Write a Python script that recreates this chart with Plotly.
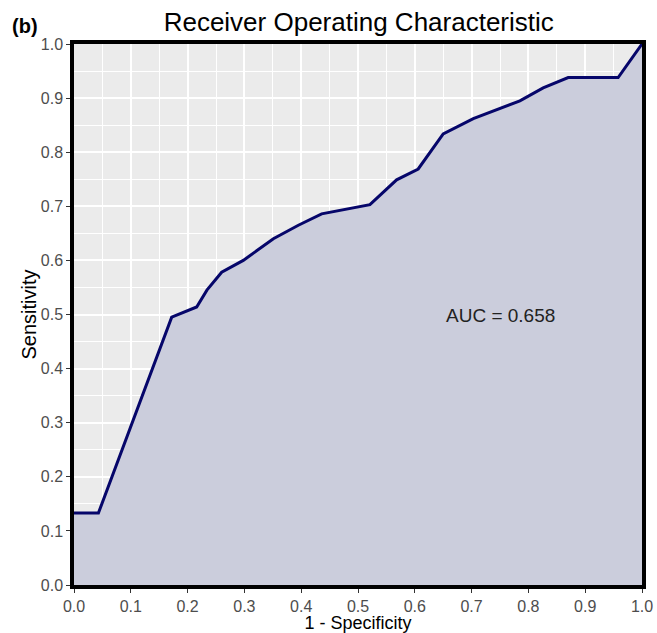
import plotly.graph_objects as go

fpr = [0.0, 0.043, 0.172, 0.195, 0.216, 0.234, 0.26, 0.298, 0.351, 0.395, 0.436,
       0.521, 0.568, 0.606, 0.65, 0.703, 0.785, 0.826, 0.87, 0.958, 1.0]
tpr = [0.133, 0.133, 0.495, 0.505, 0.514, 0.545, 0.578, 0.6, 0.64, 0.665, 0.686,
       0.703, 0.749, 0.769, 0.834, 0.862, 0.895, 0.919, 0.938, 0.938, 1.0]
auc_label = "AUC = 0.658"
auc_pos = (0.75, 0.498)
tick_vals = [i / 10 for i in range(11)]

FONT = "Liberation Sans"

fig = go.Figure()
fig.add_trace(go.Scatter(
    x=fpr, y=tpr, mode="lines", fill="tozeroy",
    fillcolor="#CBCDDC", line=dict(color="#06066A", width=3),
    showlegend=False, hoverinfo="skip"))

fig.add_annotation(x=auc_pos[0], y=auc_pos[1], text=auc_label, showarrow=False,
                   font=dict(size=19, color="#222222", family=FONT))

axis_common = dict(
    range=[0, 1], tickvals=tick_vals, tickformat=".1f", automargin=False,
    showline=True, mirror=True, linecolor="black", linewidth=3.5,
    ticks="outside", ticklen=4, tickcolor="#333333", tickwidth=1,
    showgrid=True, gridcolor="white", gridwidth=1.5, zeroline=False,
    minor=dict(dtick=0.05, showgrid=True, gridcolor="white", gridwidth=1),
    tickfont=dict(size=16, color="#4D4D4D", family=FONT),
)

fig.update_xaxes(**axis_common,
                 title=dict(text="1 - Specificity", standoff=4,
                            font=dict(size=18, color="black", family=FONT)))
fig.update_yaxes(**axis_common,
                 title=dict(text="Sensitivity", standoff=0,
                            font=dict(size=20, color="black", family=FONT)))

fig.add_annotation(xref="paper", yref="paper", x=-0.1127, y=1.0333, xanchor="left",
                   yanchor="middle", text="<b>(b)</b>", showarrow=False,
                   font=dict(size=20, color="black", family=FONT))

fig.update_layout(
    width=657, height=633,
    margin=dict(l=74, r=15, t=44, b=48),
    paper_bgcolor="white", plot_bgcolor="#EBEBEB",
    title=dict(text="Receiver Operating Characteristic", x=0.546, xanchor="center",
               y=1 - 22 / 633, yanchor="middle",
               font=dict(size=26, color="black", family=FONT)),
)

fig.write_html("out.html",
               config={"displayModeBar": False},
               post_script="document.body.style.margin='0px';"
                           "document.body.style.overflow='hidden';")
